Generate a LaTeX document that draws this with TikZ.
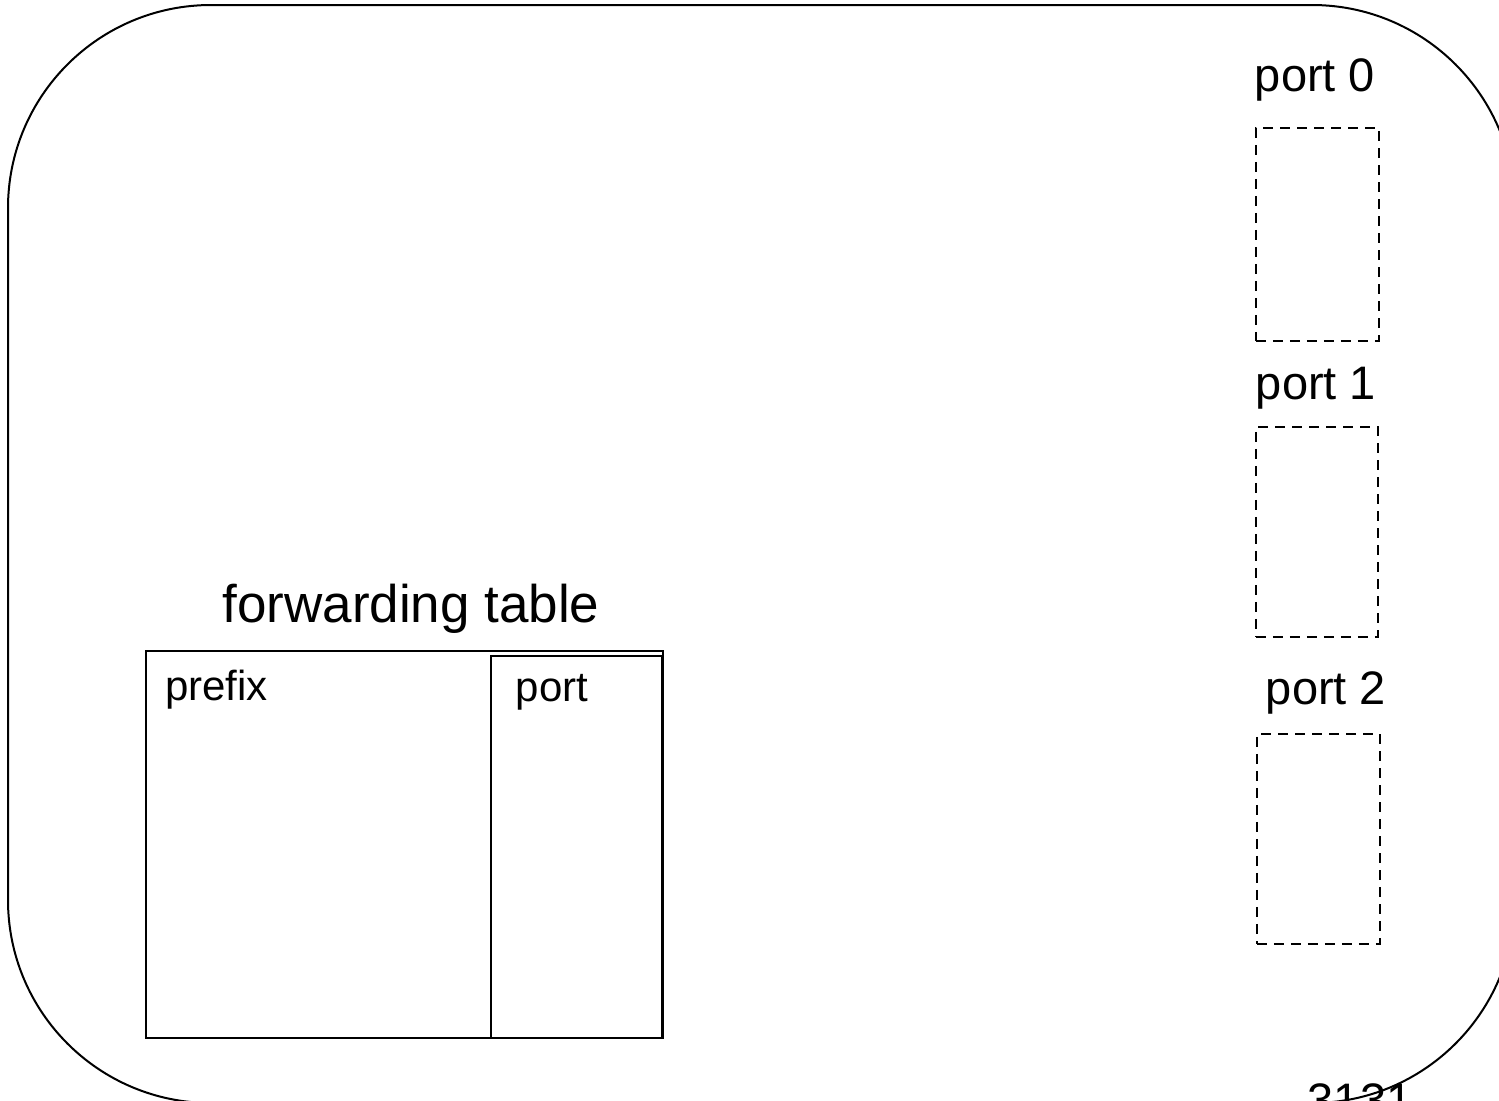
\documentclass[tikz,border=0pt]{standalone}
\usepackage{fontspec}
\setmainfont{Liberation Sans}
\begin{document}
\begin{tikzpicture}[x=0.5pt,y=-0.5pt,
  portbox/.style={draw, dash pattern=on 5pt off 3.5pt, line width=0.75pt, inner sep=0, anchor=north west},
  tablebox/.style={draw, line width=0.9pt, inner sep=0, anchor=north west},
  bigtxt/.style={inner sep=0, font=\fontsize{23.5}{28}\selectfont},
  titletxt/.style={inner sep=0, font=\fontsize{26.5}{32}\selectfont},
  celltxt/.style={inner sep=0, font=\fontsize{21}{25}\selectfont}]
\useasboundingbox (0,0) rectangle (1499,1100);
\begin{scope}
  \clip (0,0) rectangle (1499,1100);
  \draw[line width=1pt, rounded corners=101.5pt] (8,5) rectangle (1515,1103);
  \node[bigtxt, anchor=north] (pagenum) at (1360,1083) {3131};
\end{scope}
% ports
\node[bigtxt] (p0lbl) at (1315,80) {port 0};
\node[portbox, minimum width=61.5pt, minimum height=106.5pt] (p0) at (1255,127) {};
\node[bigtxt] (p1lbl) at (1316,388) {port 1};
\node[portbox, minimum width=61pt, minimum height=105pt] (p1) at (1255,426) {};
\node[bigtxt] (p2lbl) at (1326,693) {port 2};
\node[portbox, minimum width=61.5pt, minimum height=105pt] (p2) at (1256,733) {};
% forwarding table
\node[titletxt] (ftlbl) at (411,609) {forwarding table};
\node[tablebox, minimum width=258.5pt, minimum height=193.5pt] (ft) at (145,650) {};
\node[tablebox, minimum width=85.5pt, minimum height=191pt] (ftport) at (490,655) {};
\node[celltxt] (prefix) at (216.5,689.5) {prefix};
\node[celltxt] (portcol) at (552,692) {port};
\end{tikzpicture}
\end{document}
